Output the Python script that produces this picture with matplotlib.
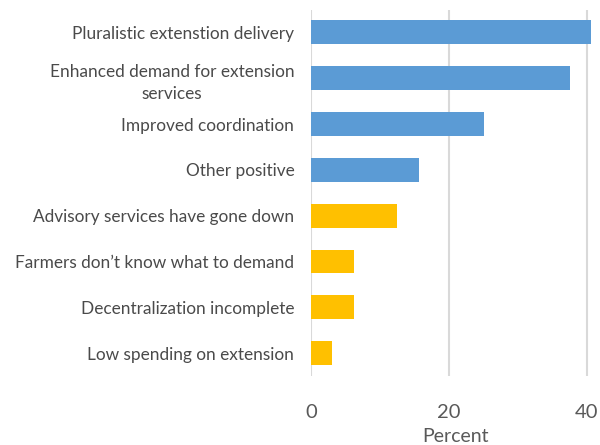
import matplotlib.pyplot as plt
import numpy as np

categories = [
    "Pluralistic extenstion delivery",
    "Enhanced demand for extension\nservices",
    "Improved coordination",
    "Other positive",
    "Advisory services have gone down",
    "Farmers don\u2019t know what to demand",
    "Decentralization incomplete",
    "Low spending on extension",
]
values = [40.6, 37.5, 25.0, 15.6, 12.5, 6.25, 6.25, 3.1]
colors = ["#5B9BD5"] * 4 + ["#FFC000"] * 4
xticks = [0, 20, 40]

plt.rcParams['font.family'] = ['Lato', 'DejaVu Sans']

fig = plt.figure(figsize=(6, 4.45), dpi=100)
ax = fig.add_axes([311 / 600, 1 - 376 / 445, 289 / 600, 366.5 / 445])

y = np.arange(len(categories))
ax.barh(y, values, height=0.52, color=colors, zorder=3)
ax.set_ylim(len(categories) - 0.5, -0.5)
ax.set_xlim(0, 289 / 6.9)

ax.set_yticks(y)
ax.set_yticklabels(categories, fontsize=12.4, color="#4A4A4A",
                   multialignment="center", linespacing=1.45)
ax.set_xticks(xticks)
ax.set_xticklabels([str(t) for t in xticks], fontsize=14.5, color="#595959")
ax.tick_params(axis="both", length=0)
ax.tick_params(axis="y", pad=12)
ax.tick_params(axis="x", pad=20)
ax.set_xlabel("Percent", fontsize=14, color="#595959", labelpad=5)

ax.grid(axis="x", color="#D9D9D9", linewidth=1.5, zorder=0)
for s in ax.spines.values():
    s.set_visible(False)

fig.savefig("out.png", dpi=100)
